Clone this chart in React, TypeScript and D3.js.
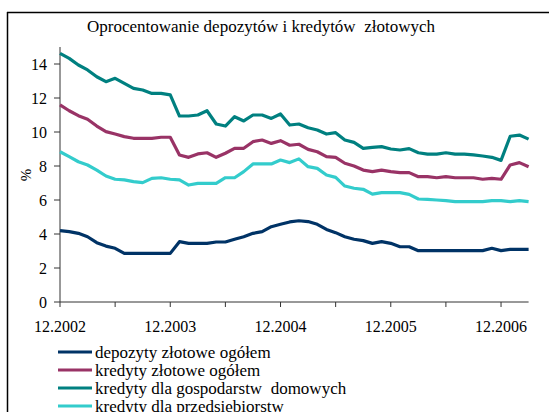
import React from "react";
import * as d3 from "d3";

const title = "Oprocentowanie depozytów i kredytów  złotowych";
const yLabel = "%";
const xTickLabels = ["12.2002", "12.2003", "12.2004", "12.2005", "12.2006"];
const yTicks = [0, 2, 4, 6, 8, 10, 12, 14];

const seriesNames = [
  "depozyty złotowe ogółem",
  "kredyty złotowe ogółem",
  "kredyty dla gospodarstw  domowych",
  "kredyty dla przedsiębiorstw",
];
const seriesColors = ["#003366", "#993366", "#008080", "#33CCCC"];

const depozyty = [
  4.2, 4.14, 4.04, 3.84, 3.49, 3.29, 3.16, 2.86, 2.86, 2.86, 2.86, 2.86, 2.86,
  3.55, 3.45, 3.45, 3.45, 3.53, 3.53, 3.69, 3.84, 4.04, 4.14, 4.43, 4.57, 4.71,
  4.78, 4.73, 4.57, 4.27, 4.08, 3.84, 3.69, 3.61, 3.45, 3.55, 3.45, 3.25, 3.25,
  3.02, 3.02, 3.02, 3.02, 3.02, 3.02, 3.02, 3.02, 3.16, 3.02, 3.1, 3.1, 3.1,
];
const kredytyOgolem = [
  11.59, 11.25, 10.96, 10.75, 10.35, 10.02, 9.88, 9.73, 9.63, 9.63, 9.63, 9.69,
  9.69, 8.65, 8.51, 8.71, 8.78, 8.51, 8.75, 9.04, 9.04, 9.43, 9.53, 9.33, 9.49,
  9.22, 9.28, 8.98, 8.84, 8.55, 8.51, 8.16, 8.0, 7.76, 7.67, 7.76, 7.67, 7.61,
  7.61, 7.37, 7.37, 7.31, 7.37, 7.31, 7.31, 7.31, 7.22, 7.27, 7.22, 8.06, 8.2,
  7.96,
];
const kredytyGospodarstwa = [
  14.63, 14.33, 13.94, 13.65, 13.25, 12.96, 13.16, 12.86, 12.57, 12.47, 12.27,
  12.27, 12.18, 10.94, 10.94, 11.0, 11.25, 10.47, 10.35, 10.9, 10.65, 11.0, 11.0,
  10.8, 11.06, 10.41, 10.47, 10.25, 10.12, 9.88, 9.96, 9.53, 9.39, 9.04, 9.1,
  9.14, 9.0, 8.94, 9.02, 8.78, 8.7, 8.7, 8.78, 8.7, 8.7, 8.65, 8.59, 8.51, 8.33,
  9.75, 9.82, 9.58,
];
const kredytyPrzedsiebiorstwa = [
  8.84, 8.55, 8.25, 8.06, 7.76, 7.41, 7.22, 7.18, 7.08, 7.02, 7.27, 7.31, 7.22,
  7.18, 6.88, 6.98, 6.98, 6.98, 7.31, 7.31, 7.67, 8.12, 8.12, 8.12, 8.35, 8.2,
  8.42, 7.96, 7.86, 7.47, 7.33, 6.82, 6.69, 6.63, 6.35, 6.43, 6.43, 6.43, 6.33,
  6.06, 6.04, 6.0, 5.96, 5.9, 5.9, 5.9, 5.9, 5.96, 5.96, 5.9, 5.96, 5.9,
];

const allSeries = [depozyty, kredytyOgolem, kredytyGospodarstwa, kredytyPrzedsiebiorstwa];

const W = 549;
const H = 412;
const FONT = '"Liberation Serif", "DejaVu Serif", serif';
const txt: React.CSSProperties = { fontFamily: FONT, whiteSpace: "pre" };

export default function App() {
  const n = depozyty.length;
  const x = d3.scaleLinear().domain([0, n - 1]).range([60, 528.6]);
  const y = d3.scaleLinear().domain([0, 15]).range([302, 47]);
  const line = d3
    .line<number>()
    .x((_, i) => x(i))
    .y((d) => y(d));

  const minorTicks = d3.range(0, n - 1, 6);
  const labelTicks = d3.range(0, n - 1, 12);

  return (
    <svg
      width={W}
      height={H}
      style={{ position: "absolute", left: 0, top: 0, background: "#fff" }}
    >
      <rect x={0} y={0} width={W} height={H} fill="#fff" />
      {/* frame */}
      <line x1={7} y1={12.5} x2={W} y2={12.5} stroke="#000" strokeWidth={1.5} />
      <line x1={7.5} y1={12} x2={7.5} y2={H} stroke="#000" strokeWidth={1.5} />

      <text x={261} y={32} textAnchor="middle" fontSize={17} fill="#000" style={txt} xmlSpace="preserve">
        {title}
      </text>

      {/* y axis */}
      <line x1={60} y1={y(15)} x2={60} y2={y(0)} stroke="#333" strokeWidth={1} />
      {yTicks.map((t) => (
        <g key={t}>
          <line x1={54} x2={60} y1={y(t)} y2={y(t)} stroke="#333" strokeWidth={1} />
          <text x={47} y={y(t) + 5.5} textAnchor="end" fontSize={16} fill="#000" style={txt}>
            {t}
          </text>
        </g>
      ))}
      <text
        transform={`translate(31,175) rotate(-90)`}
        textAnchor="middle"
        fontSize={15}
        fill="#000"
        style={txt}
      >
        {yLabel}
      </text>

      {/* x axis */}
      <line x1={60} y1={y(0)} x2={x(n - 1)} y2={y(0)} stroke="#333" strokeWidth={1} />
      {minorTicks.map((i) => (
        <line key={i} x1={x(i)} x2={x(i)} y1={y(0)} y2={y(0) + 5} stroke="#333" strokeWidth={1} />
      ))}
      {labelTicks.map((i, k) => (
        <text key={i} x={x(i)} y={332} textAnchor="middle" fontSize={16} fill="#000" style={txt}>
          {xTickLabels[k]}
        </text>
      ))}

      {/* series */}
      {allSeries.map((s, k) => (
        <path
          key={k}
          d={line(s) || ""}
          fill="none"
          stroke={seriesColors[k]}
          strokeWidth={3.2}
          strokeLinejoin="round"
        />
      ))}

      {/* legend */}
      {seriesNames.map((name, k) => {
        const ly = 352 + k * 18;
        return (
          <g key={k}>
            <line x1={58} x2={92} y1={ly} y2={ly} stroke={seriesColors[k]} strokeWidth={3.2} />
            <text x={95} y={ly + 5.5} fontSize={17} fill="#000" style={txt} xmlSpace="preserve">
              {name}
            </text>
          </g>
        );
      })}
    </svg>
  );
}
